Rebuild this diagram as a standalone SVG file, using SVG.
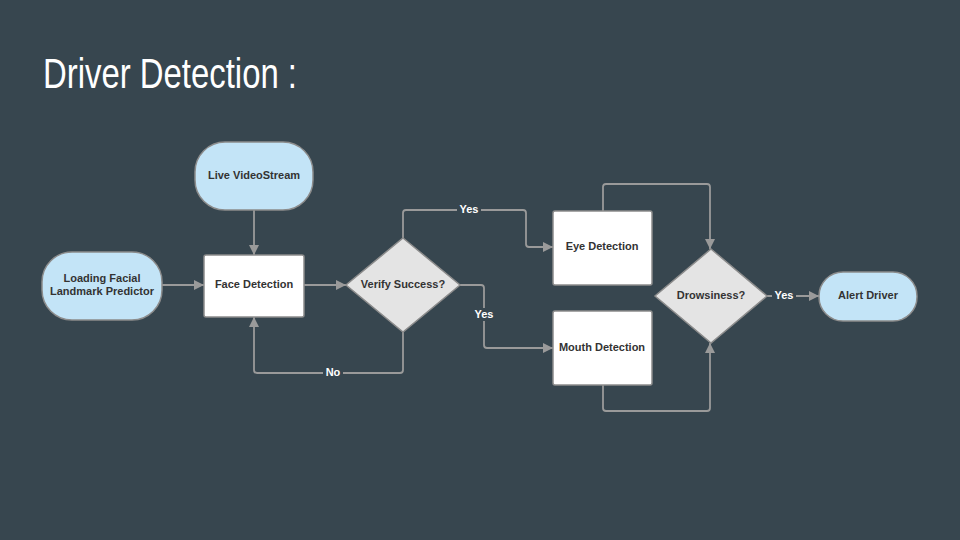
<svg xmlns="http://www.w3.org/2000/svg" width="960" height="540" viewBox="0 0 960 540">
<defs>
<marker id="ah" viewBox="0 0 10 10" refX="10" refY="5" markerWidth="10" markerHeight="10" markerUnits="userSpaceOnUse" orient="auto">
<path d="M0,0 L10,5 L0,10 z" fill="#9a9a9a"/>
</marker>
<style>
.term{fill:#c3e4f7;stroke:#8c8c8c;stroke-width:1.5}
.proc{fill:#ffffff;stroke:#8c8c8c;stroke-width:1.5}
.dec{fill:#e4e4e4;stroke:#8c8c8c;stroke-width:1.5}
.lbl{font-family:"Liberation Sans",Arial,sans-serif;font-weight:bold;font-size:11px;fill:#333333;text-anchor:middle}
.edge{fill:none;stroke:#9a9a9a;stroke-width:1.8;stroke-linejoin:round}
.elbl{font-family:"Liberation Sans",Arial,sans-serif;font-weight:bold;font-size:11px;fill:#ffffff;text-anchor:middle}
.lblbg{fill:#37464f}
</style>
</defs>
<rect width="960" height="540" fill="#37464f"/>
<text x="43" y="88" font-family="'Liberation Sans Narrow','Liberation Sans',sans-serif" font-size="43" fill="#ffffff" textLength="254" lengthAdjust="spacingAndGlyphs">Driver Detection :</text>

<g id="connectors">
<path class="edge" d="M254,210 V255" marker-end="url(#ah)"/>
<path class="edge" d="M162,285 H204" marker-end="url(#ah)"/>
<path class="edge" d="M304,285 H346" marker-end="url(#ah)"/>
<path class="edge" d="M403,238 V213 Q403,210 406,210 H523 Q526,210 526,213 V244 Q526,247 529,247 H553" marker-end="url(#ah)"/>
<path class="edge" d="M460,285 H481 Q484,285 484,288 V345 Q484,348 487,348 H553" marker-end="url(#ah)"/>
<path class="edge" d="M403,332 V370 Q403,373 400,373 H257 Q254,373 254,370 V317" marker-end="url(#ah)"/>
<path class="edge" d="M603,211 V187 Q603,184 606,184 H707 Q710,184 710,187 V249" marker-end="url(#ah)"/>
<path class="edge" d="M603,385 V408 Q603,411 606,411 H707 Q710,411 710,408 V343" marker-end="url(#ah)"/>
<path class="edge" d="M767,296 H819" marker-end="url(#ah)"/>
<rect class="lblbg" x="457" y="203" width="24" height="13"/>
<text class="elbl" x="469" y="213">Yes</text>
<rect class="lblbg" x="471" y="308" width="26" height="13"/>
<text class="elbl" x="484" y="318">Yes</text>
<rect class="lblbg" x="323" y="366" width="20" height="13"/>
<text class="elbl" x="333" y="376">No</text>
<rect class="lblbg" x="772" y="289" width="24" height="13"/>
<text class="elbl" x="784" y="299">Yes</text>
</g>

<g id="live">
<rect class="term" x="195" y="142" width="118" height="68" rx="30"/>
<text class="lbl" x="254" y="179">Live VideoStream</text>
</g>
<g id="loading">
<rect class="term" x="42" y="252" width="120" height="68" rx="30"/>
<text class="lbl" x="102" y="282">Loading Facial</text>
<text class="lbl" x="102" y="295">Landmark Predictor</text>
</g>
<g id="face">
<rect class="proc" x="204" y="255" width="100" height="62" rx="2"/>
<text class="lbl" x="254" y="288">Face Detection</text>
</g>
<g id="verify">
<polygon class="dec" points="403,238 460,285 403,332 346,285"/>
<text class="lbl" x="403" y="288">Verify Success?</text>
</g>
<g id="eye">
<rect class="proc" x="553" y="211" width="99" height="74" rx="2"/>
<text class="lbl" x="602" y="250">Eye Detection</text>
</g>
<g id="mouth">
<rect class="proc" x="553" y="311" width="99" height="74" rx="2"/>
<text class="lbl" x="602" y="351">Mouth Detection</text>
</g>
<g id="drowsiness">
<polygon class="dec" points="711,249 767,296 711,343 655,296"/>
<text class="lbl" x="711" y="299">Drowsiness?</text>
</g>
<g id="alert">
<rect class="term" x="819" y="272" width="98" height="49" rx="24"/>
<text class="lbl" x="868" y="299">Alert Driver</text>
</g>
</svg>
